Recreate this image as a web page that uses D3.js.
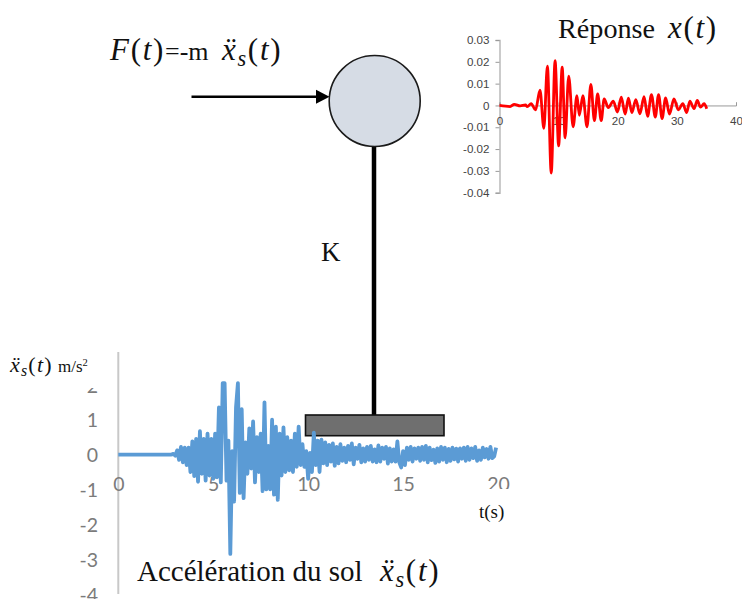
<!DOCTYPE html>
<html><head><meta charset="utf-8">
<script src="https://cdn.jsdelivr.net/npm/d3@7"></script>
<style>html,body{margin:0;padding:0;background:#fff}svg{display:block}
text{font-family:"Liberation Serif",serif;fill:#111}
.tick text{font-family:Lato,sans-serif}
.resp .tick text{font-family:"Liberation Sans",sans-serif}
</style></head><body><svg id="c" width="742" height="599"></svg>
<script>
// Ground acceleration (m/s2), sampled every 0.1 s from 2.8 s to 20 s, quiet before
const accelStart = 2.8, accelStep = 0.1, accelEnd = 20;
const accelValues = [
0,.02,-.03,.12,-.15,.22,-.22,.2,-.3,.2,
-.5,.38,-.62,.45,-.78,.67,-.55,.45,-.75,.6,
-.6,.45,-.7,.6,-.65,1.35,-.8,2.05,2.05,-.75,
.4,-2.85,.1,-1.35,1.35,2.05,-1.1,1.3,-1.25,.35,
-.55,.75,-.4,.95,-.8,.5,-.5,.6,-1.05,1.5,
-1,.25,-1,1,-1.15,.8,-1.3,.6,-.6,.78,
-.5,.5,-.45,.4,-.5,.6,-.35,.8,-.3,.3,
-.35,.1,-.7,.05,-.5,.63,-.3,.4,-.5,.43,
-.25,.35,-.3,.28,-.2,.32,-.32,.22,-.25,.3,
-.18,.2,-.22,.25,-.15,.32,-.28,.2,-.12,.28,
-.22,.18,-.2,.22,-.15,.25,-.2,.15,-.22,.26,
-.2,.2,-.12,.22,-.26,.18,-.2,.15,-.2,.38,
-.22,-.37,.1,-.3,.2,-.15,.22,-.2,.18,-.12,
.2,-.18,.22,-.15,.25,-.22,.2,-.16,.14,-.24,
.18,-.2,.22,-.15,.2,-.22,.16,-.18,.2,-.14,
.17,-.2,.18,-.12,.2,-.18,.22,-.15,.18,-.1,
.22,-.18,.12,-.15,.2,-.08,.16,-.12,.22,-.1,
-.05,.2
];
const accelYTicks = [-4,-3,-2,-1,0,1,2];
const accelXTicks = [0,5,10,15,20];

// Response x(t): successive extrema
const respTimes = [0,1.8,2.5,3.5,4.4,4.7,5.35,6.1,6.85,7.5,8.1,8.75,9.4,10,10.6,11.1,11.7,12.45,13.1,13.5,14.1,14.8,15.45,16.05,16.6,17.2,17.7,18.4,19.25,19.95,20.6,21.25,21.8,22.4,23.05,23.75,24.45,25.05,25.7,26.35,26.9,27.5,28.1,28.75,29.5,30.25,31,31.65,32.2,32.9,33.45,34,34.6,35.05];
const respValues = [0,-.0005,.0005,-.0002,.0002,-.0005,.0008,-.002,.007,-.0105,.018,-.031,.0205,-.0185,.0175,-.0148,.0134,-.0098,.0045,-.0045,.0045,-.0098,.0096,-.007,.0053,-.007,.003,-.001,.002,-.003,.0038,-.004,.0033,-.0033,.0027,-.0038,.004,-.005,.005,-.0053,.005,-.006,.0035,-.004,.003,-.002,.0008,-.0033,.002,-.0015,.0023,-.0008,.0008,-.0015];
const respYTicks = [-.04,-.03,-.02,-.01,0,.01,.02,.03];
const respXTicks = [0,10,20,30,40];

const hyphen = s => s.replace('\u2212','-');
const svg = d3.select('#c');

// Mass-spring sketch (drawn below the acceleration trace)
const mass = {cx:374.7, cy:101, r:45.5};
svg.append('line').attr('x1',374).attr('x2',374).attr('y1',146).attr('y2',415).attr('stroke','#000').attr('stroke-width',4.5);
svg.append('rect').attr('x',305.5).attr('y',415).attr('width',138.5).attr('height',20.7).attr('fill','#6f6f6f').attr('stroke','#111').attr('stroke-width',1.6);
svg.append('circle').attr('cx',mass.cx).attr('cy',mass.cy).attr('r',mass.r).attr('fill','#d6dce5').attr('stroke','#1a1a1a').attr('stroke-width',1.6);
svg.append('line').attr('x1',191.5).attr('x2',318).attr('y1',96.7).attr('y2',96.7).attr('stroke','#000').attr('stroke-width',2.4);
svg.append('path').attr('d','M316,89.7L329.5,96.7L316,103.7Z').attr('fill','#000');

// Acceleration chart
const ax = d3.scaleLinear().domain([0,20]).range([118.3,498]);
const ay = d3.scaleLinear().domain([-4,3]).range([594,350]);
const accel = svg.append('g');
accel.append('line').attr('x1',ax(0)).attr('x2',ax(0)).attr('y1',352).attr('y2',594).attr('stroke','#c8c8c8').attr('stroke-width',2);
const ayAxis = accel.append('g').attr('transform','translate(98,1)')
  .call(d3.axisLeft(ay).tickValues(accelYTicks).tickSize(0).tickPadding(0).tickFormat(d=>hyphen(d3.format('d')(d))));
const axAxis = accel.append('g').attr('transform','translate(0,477)')
  .call(d3.axisBottom(ax).tickValues(accelXTicks).tickSize(0).tickPadding(0).tickFormat(d3.format('d')));
[ayAxis,axAxis].forEach(g=>{g.select('.domain').remove();
  g.selectAll('.tick text').style('fill','#7b7b7b').style('font-size','19.5px');});
const accelPts = [[0,0]].concat(accelValues.map((v,i)=>[accelStart+i*accelStep,v]));
accel.append('path').datum(accelPts)
  .attr('d',d3.line().x(d=>ax(d[0])).y(d=>ay(d[1])))
  .attr('fill','none').attr('stroke','#5b9bd5').attr('stroke-width',3.8).attr('stroke-linejoin','round');

// White label boxes that sit on top of the tick labels
svg.append('rect').attr('x',0).attr('y',352).attr('width',108).attr('height',36).attr('fill','#fff');
svg.append('rect').attr('x',450).attr('y',489).attr('width',85).attr('height',57).attr('fill','#fff');

// Response chart
const rx = d3.scaleLinear().domain([0,40]).range([499.5,736]);
const ry = d3.scaleLinear().domain([-.04,.03]).range([192.7,40]);
const resp = svg.append('g').attr('class','resp');
const ryAxis = resp.append('g').attr('transform',`translate(${rx(0)},0)`)
  .call(d3.axisLeft(ry).tickValues(respYTicks).tickSize(4).tickPadding(6).tickFormat(d=>d===0?'0':hyphen(d3.format('.2f')(d))));
const rxAxis = resp.append('g').attr('transform',`translate(0,${ry(0)})`)
  .call(d3.axisBottom(rx).tickValues(respXTicks).tickSize(-3).tickPadding(11).tickFormat(d3.format('d')));
ryAxis.select('.domain').attr('stroke','#b5b5b5').attr('stroke-width',1.4);
rxAxis.select('.domain').attr('stroke','#999');
[ryAxis,rxAxis].forEach(g=>{g.selectAll('.tick line').attr('stroke','#999');
  g.selectAll('.tick text').style('fill','#444').style('font-size','11.6px');});
resp.append('path').datum(respTimes.map((t,i)=>[t,respValues[i]]))
  .attr('d',d3.line().x(d=>rx(d[0])).y(d=>ry(d[1])).curve(d3.curveMonotoneX))
  .attr('fill','none').attr('stroke','#ff0000').attr('stroke-width',2.8).attr('stroke-linejoin','round');

// Text labels: each part is [text, kind, x]; math parts are spaced like an equation font
function label(y,size,mathSize,parts){
  const t = svg.append('text').attr('y',y).attr('font-size',size);
  const gap = mathSize*.055;
  parts.forEach(([s,kind,x])=>{
    const sp = t.append('tspan').text(s);
    if(x!==undefined) sp.attr('x',x);
    if(kind==='i'||kind==='m') sp.attr('font-size',mathSize).attr('letter-spacing',gap);
    if(kind==='i') sp.attr('font-style','italic');
    if(kind==='s') sp.attr('font-style','italic').attr('baseline-shift',-mathSize*.2).attr('font-size',mathSize*.72).attr('letter-spacing',gap);
    if(kind==='p') sp.attr('baseline-shift',size*.35).attr('font-size',size*.62);
  });
}
const acc = x => [['ẍ','i',x],['s','s'],['(','m'],['t','i'],[')','m']];
label(60,26,31,[['F','i',110],['(','m'],['t','i'],[')','m'],['=-m','',165],...acc(222)]);
label(38,28.2,31,[['Réponse','',558],['x','i',668],['(','m'],['t','i'],[')','m']]);
label(261,27,27,[['K','',321]]);
label(372,17,22,[...acc(10),['m/s','',58],['2','p']]);
label(518,19,19,[['t(s)','',479]]);
label(581,29,31,[['Accélération du sol','',137],...acc(380)]);
</script></body></html>
